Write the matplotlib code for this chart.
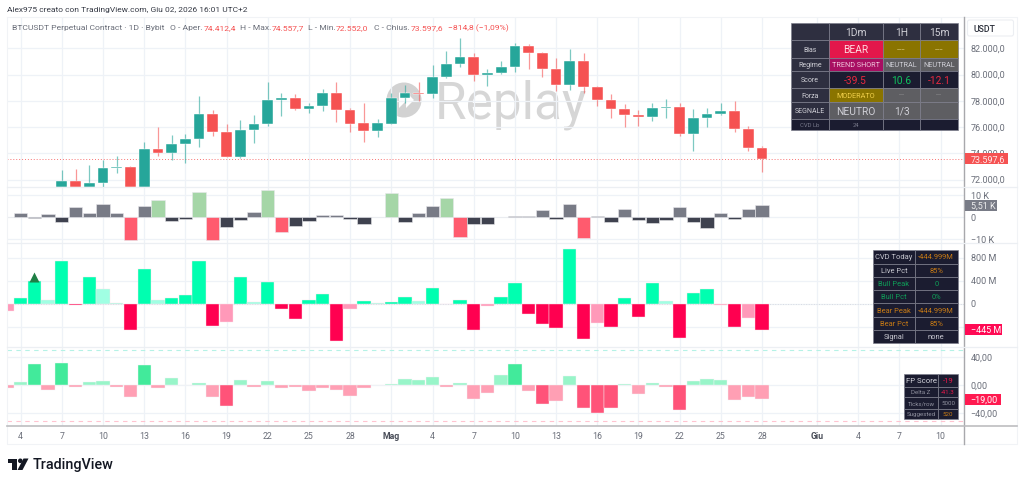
import matplotlib
matplotlib.use("Agg")
import matplotlib.pyplot as plt
from matplotlib.patches import Rectangle, Circle, Polygon, FancyBboxPatch

plt.rcParams['font.family'] = ['Roboto', 'DejaVu Sans']

# ---------- data ----------
candle_days = list(range(3, 55))
opens = [71429,71887,71429,71734,72878,72979,71429,74352,74047,74733,75088,76994,75597,73742,75749,76257,78087,78188,77350,77579,78595,77299,76283,75724,76257,78188,78620,78493,79789,80806,81365,79942,80120,80602,82152,81670,80425,79230,81034,79027,78087,77401,76943,76766,77477,77553,75470,76689,76994,77248,75876,74412.4]
highs = [72751,72802,73106,73462,73767,73056,74834,76003,75393,75470,78341,77325,76207,76511,76918,79408,78595,78493,77833,78900,79434,77426,77833,76613,78595,79205,79408,80729,81771,82788,81619,80450,81034,82432,82305,81746,81263,81949,81644,79103,78544,77731,77325,77807,78138,77807,77350,77452,77858,78011,76105,74557.7]
lows = [71429,71429,71429,71429,72497,71429,71429,73767,73462,73234,74479,75343,73742,73615,74784,76105,76867,77274,77070,77248,76410,75597,74885,75266,76257,77833,78011,78188,79713,80602,79484,79103,80043,80221,80399,79789,78722,78849,78595,77604,76664,75978,76105,76486,76664,75292,74199,76029,76918,75622,74199,72552]
closes = [71887,71429,71734,72878,72979,71429,74352,74047,74733,75063,76994,75622,73742,75749,76257,78087,78188,77350,77579,78595,77299,76257,75724,76283,78188,78620,78493,79789,80806,81365,79942,80120,80602,82152,81670,80425,79230,81034,79027,78087,77401,76943,76766,77477,77553,75470,76689,76994,77248,75876,74377,73597.6]

bar_days = list(range(-1, 55))
volume_k = [0.3,1.8,-0.5,1.4,-2.0,4.7,2.0,5.9,2.0,-10.2,5.2,7.7,-1.8,-0.8,11.5,-10.5,-4.5,-1.2,2.3,12.3,-6.7,-3.9,-1.7,0.8,0.8,-0.9,-3.3,0.3,10.8,-2.4,1.8,5.3,8.8,-8.9,-2.9,-2.9,0.15,0.5,0.5,3.3,-0.8,5.9,-9.5,0.6,-2.0,3.6,-1.1,-2.6,-1.2,4.8,-2.3,-5.0,1.7,-0.8,3.8,5.51]
cvd_m = [-127,104,403,63,742,-23,472,259,23,-449,598,69,104,150,742,-385,-305,472,40,385,-92,-253,75,173,-633,-86,46,17,40,121,52,270,6,63,-443,-40,127,362,-173,-351,-420,950,-610,-322,-403,98,-219,368,52,-593,184,253,-17,-391,-247,-445]
cvd_faded_days = [-1,2,6,7,10,15,17,24,26,29,31,34,42,47,51,53]
fp_score = [-4,5,31,-7,32,-2.5,5,6,-2.5,-16,29,-4,11,1,3,-17,-29,7,-2.5,6,-4,-2.5,-8,-4,-7,-15,-4,0.5,1.5,9,8,12,-3,3,-20,-11,15,30,-8,-27,-23,13,-32,-39.5,-33,2,-12,4,-3,-35,6,9,7,-21,-17,-19]

tick_days = [0,3,6,9,12,15,18,21,24,27,30,33,36,39,42,45,48,51,54,58,61,64,67]
tick_labels = ['4','7','10','13','16','19','22','25','28','Mag','4','7','10','13','16','19','22','25','28','Giu','4','7','10']
bold_ticks = ['Mag','Giu']

price_ticks = [72000,74000,76000,78000,80000,82000]
price_labels = ['72.000,0','74.000,0','76.000,0','78.000,0','80.000,0','82.000,0']
vol_ticks = [-10,0,10]
vol_labels = ['−10 K','0','10 K']
cvd_ticks = [0,400,800]
cvd_labels = ['0','400 M','800 M']
fp_ticks = [-40,0,40]
fp_labels = ['−40,00','0,00','40,00']
last_price = 73597.6

table1 = [
    ['', '1Dm', '1H', '15m'],
    ['Bias', 'BEAR', '---', '---'],
    ['Regime', 'TREND SHORT', 'NEUTRAL', 'NEUTRAL'],
    ['Score', '-39.5', '10.6', '-12.1'],
    ['Forza', 'MODERATO', '---', '---'],
    ['SEGNALE', 'NEUTRO', '1/3', ''],
    ['CVD Lb', '24', '', ''],
]
table2 = [
    ['CVD Today', '-444.999M'],
    ['Live Pct', '85%'],
    ['Bull Peak', '0'],
    ['Bull Pct', '0%'],
    ['Bear Peak', '-444.999M'],
    ['Bear Pct', '85%'],
    ['Signal', 'none'],
]
table3 = [
    ['FP Score', '-19'],
    ['Delta Z', '-41.3'],
    ['Ticks/row', '5000'],
    ['Suggested', '520'],
]

# ---------- styles / layout ----------
W, H = 1024, 485
fig = plt.figure(figsize=(W/100, H/100), dpi=100, facecolor='white')
L, R = 6.7, 964.0
X0, DX = 20.6, 13.73
GRID = '#eef2f7'
TXT = '#6a6e79'
UP, DOWN = '#26a69a', '#f55252'

def make_pane(top, bottom, ylim, yticks):
    ax = fig.add_axes([L/W, 1-bottom/H, (R-L)/W, (bottom-top)/H])
    ax.set_xlim((L-X0)/DX, (R-X0)/DX)
    ax.set_ylim(*ylim)
    ax.set_xticks(tick_days)
    ax.set_yticks(yticks)
    ax.tick_params(length=0, labelbottom=False, labelleft=False)
    ax.grid(True, color=GRID, lw=0.9)
    ax.set_axisbelow(True)
    for s in ax.spines.values():
        s.set_visible(False)
    return ax

def yrange(top, bottom, y_ref, v_ref, px_per_unit):
    return (v_ref - (bottom-y_ref)/px_per_unit, v_ref + (y_ref-top)/px_per_unit)

main = make_pane(17.5, 188.3, yrange(17.5, 188.3, 49.33, 82000, 13.117/1000), price_ticks)
vol = make_pane(188.3, 244.3, yrange(188.3, 244.3, 218.2, 0, 2.2), vol_ticks)
cvd = make_pane(244.3, 347.7, yrange(244.3, 347.7, 305, 0, 0.0578), cvd_ticks + [-400])
fp = make_pane(347.7, 426.7, yrange(347.7, 426.7, 386.3, 0, 0.7), fp_ticks)

# candles
colors = [UP if c >= o else DOWN for o, c in zip(opens, closes)]
main.vlines(candle_days, lows, highs, colors=colors, lw=0.9, alpha=0.6, zorder=3)
main.bar(candle_days, [abs(c-o) for o, c in zip(opens, closes)],
         bottom=[min(o, c) for o, c in zip(opens, closes)],
         width=0.78, color=colors, edgecolor='white', linewidth=0.3, zorder=4)
main.axhline(last_price, color=DOWN, lw=0.7, ls=(0, (1, 2)), alpha=0.8, zorder=2)

# watermark
ov = fig.add_axes([0, 0, 1, 1], facecolor='none', zorder=1)
main.set_zorder(2); main.patch.set_alpha(0)
ov.set_xlim(0, W); ov.set_ylim(H, 0); ov.axis('off')
ov.add_patch(Circle((404, 101), 17.5, color='#d2d2d2', lw=0))
ov.add_patch(Polygon([(399, 93), (407, 101), (399, 109)], color='white', lw=0))
ov.add_patch(Polygon([(406, 93), (414, 101), (406, 109)], color='white', lw=0))
ov.text(435, 104.5, 'Replay', fontsize=37, color='#d6d6d6', va='center', ha='left')
for a in (vol, cvd, fp):
    a.patch.set_alpha(0); a.set_zorder(2)

# volume
def vcol(v):
    if v >= 7: return '#a5d6a7'
    if v <= -6: return '#ff5b6e'
    return '#787b86' if v > 0 else '#3f424f'
vol.bar(bar_days, volume_k, width=0.97, color=[vcol(v) for v in volume_k],
        edgecolor='#e8e8ec', linewidth=0.4, zorder=3)

# CVD
def ccol(d, v):
    if d in cvd_faded_days:
        return '#a0ffe3' if v > 0 else '#ff99b9'
    return '#00ffb0' if v > 0 else '#ff0050'
cvd.bar(bar_days, cvd_m, width=0.97, color=[ccol(d, v) for d, v in zip(bar_days, cvd_m)],
        edgecolor='#fbe3ea', linewidth=0.3, zorder=3)
cvd.axhline(0, color='#d8dbe2', lw=0.7, ls=':', zorder=2)
cvd.scatter([bar_days[2]], [cvd_m[2] + 72], marker='^', s=52, color='#1f7f45', zorder=5, linewidths=0)

# FP
def fcol(v):
    if v >= 25: return '#42ea9b'
    if v <= -25: return '#ff5379'
    return '#98f5c9' if v > 0 else '#ff9fb4'
fp.bar(bar_days, fp_score, width=0.97, color=[fcol(v) for v in fp_score],
       edgecolor='#f4f4f6', linewidth=0.3, zorder=3)
fp.axhline(50, color='#b5f2e6', lw=0.8, ls=(0, (4, 4)), zorder=2)
fp.axhline(-51, color='#ffc4d0', lw=0.8, ls=(0, (4, 4)), zorder=2)

# top overlay for text, tables, frame
top = fig.add_axes([0, 0, 1, 1], facecolor='none', zorder=10)
top.set_xlim(0, W); top.set_ylim(H, 0); top.axis('off')

# frame lines
top.plot([L, 1017, 1017, L, L], [17.5, 17.5, 445, 445, 17.5], color='#f1f3f6', lw=0.8)
top.plot([R, R], [17.5, 445], color='#a8a8ac', lw=1.0)
top.plot([L, 1017], [426.7, 426.7], color='#bdbdc0', lw=1.2)
for yy in (188.3, 244.3, 347.7):
    top.plot([L, 1017], [yy, yy], color='#eceff3', lw=0.9)

# header
top.text(7, 10.3, 'Alex975 creato con TradingView.com, Giu 02, 2026 16:01 UTC+2', fontsize=6.05,
         color='#363a45', va='center')
LEG = '#6a6e79'
y = 28.3
for x, s, c in [(12, 'BTCUSDT Perpetual Contract · 1D · Bybit', LEG), (170, 'O - Aper.', LEG), (203.5, '74.412,4', DOWN),
                (240, 'H - Max.', LEG), (272, '74.557,7', DOWN), (308, 'L - Min.', LEG), (336, '72.552,0', DOWN),
                (374, 'C - Chius.', LEG), (411, '73.597,6', DOWN), (448, '−814,8 (−1,09%)', DOWN)]:
    top.text(x, y, s, fontsize=6.1, color=c, va='center')

# right-axis labels
AX_X = 970.7
def pane_to_px(ax, v):
    return top.transData.inverted().transform(ax.transData.transform((0, v)))[1]
for ax, ticks, labels, fs in [(main, price_ticks, price_labels, 6.5), (vol, vol_ticks, vol_labels, 6.5),
                              (cvd, cvd_ticks, cvd_labels, 6.5), (fp, fp_ticks, fp_labels, 6.5)]:
    for v, s in zip(ticks, labels):
        top.text(AX_X, pane_to_px(ax, v), s, fontsize=fs, color=TXT, va='center', ha='left')

# last-value tags
def tag(y0, y1, x1, s, col, fc='white', fs=6.5):
    top.add_patch(Rectangle((965, y0), x1-965, y1-y0, color=col, lw=0, zorder=5))
    top.text(970.7, (y0+y1)/2, s, fontsize=fs, color=fc, va='center', ha='left', zorder=6)
tag(154.3, 165.3, 1008.3, '73.597,6', DOWN, '#ffe9ea')
tag(200.7, 212, 997.3, '5,51 K', '#787b86', '#eeeeee')
tag(325.3, 336, 1002, '−445 M', '#ff0a54', 'white')
tag(394.7, 405.7, 1001.3, '−19,00', '#ff1a50', 'white')

# USDT box
top.add_patch(FancyBboxPatch((967.5, 21), 46, 16, boxstyle='round,pad=0,rounding_size=2', fc='white', ec='#eceef2', lw=0.8))
top.text(973, 29, 'USDT', fontsize=6.3, color='#2a2e39', va='center', fontweight='medium')

# x tick labels
for d, s in zip(tick_days, tick_labels):
    xp = X0 + DX*d
    bold = s in bold_ticks
    top.text(xp, 436.7, s, fontsize=6.3, ha='center', va='center', color='#4a4e59' if bold else TXT,
             fontweight='bold' if bold else 'normal')

# tables
NAVY = '#1b1c30'; HEAD = '#2e2f40'; GRAY = '#5e5e62'; OLIVE = '#8a7400'; EDGE = '#7d7e8c'
def draw_table(rows, xs, ys, fill, tcolor, fsize):
    for r, row in enumerate(rows):
        for c, s in enumerate(row):
            top.add_patch(Rectangle((xs[c], ys[r]), xs[c+1]-xs[c], ys[r+1]-ys[r],
                                    fc=fill(r, c), ec=EDGE, lw=0.5, zorder=7))
            if s:
                top.text((xs[c]+xs[c+1])/2, (ys[r]+ys[r+1])/2, s, fontsize=fsize(r, c), color=tcolor(r, c),
                         ha='center', va='center', zorder=8)

t1_fill = {(1,1):'#e3174b',(1,2):OLIVE,(1,3):OLIVE,(2,1):'#a80f62',(2,2):GRAY,(2,3):GRAY,(3,1):NAVY,(3,2):NAVY,(3,3):NAVY,
           (4,1):OLIVE,(4,2):GRAY,(4,3):GRAY,(5,1):GRAY,(5,2):GRAY,(5,3):GRAY,(6,0):NAVY,(6,1):NAVY,(6,2):NAVY,(6,3):NAVY}
t1_text = {(1,1):'#ffd9df',(1,2):'#c4b25a',(1,3):'#c4b25a',(2,1):'#f0c5dc',(3,1):'#e8283f',(3,2):'#0fc45f',(3,3):'#e8283f',
           (4,1):'#f0cf4a',(4,2):'#8d8d90',(4,3):'#8d8d90',(6,0):'#77788a',(6,1):'#77788a'}
t1_size = {0:7.4,1:7.4,2:5.2,3:7.4,4:5.2,5:7.4,6:4.2}
def t1_fs(r, c):
    if c == 0:
        return 5.0 if r != 6 else 4.2
    return t1_size[r]
draw_table(table1, [791, 828.7, 882.7, 920.3, 957.7], [24, 41.3, 59.3, 72.3, 89.3, 103, 120.3, 131],
           lambda r, c: t1_fill.get((r, c), HEAD), lambda r, c: t1_text.get((r, c), '#cfcfd6'), t1_fs)

t2_col = {2:'#0f9d58',3:'#0f9d58',4:'#c77a15',5:'#c77a15'}
def t2_text(r, c):
    if r in t2_col: return t2_col[r]
    if c == 1 and r in (0, 1): return '#c77a15'
    return '#c8c8d0'
draw_table(table2, [873.3, 914.7, 957.7], [251.3, 264.6, 277.7, 291.3, 304.4, 317.7, 331, 344.3],
           lambda r, c: NAVY, t2_text, lambda r, c: 5.4)

t3_text = {(0,1):'#e8174a',(1,1):'#e8174a',(3,1):'#c77a15',(0,0):'#d4d4dc'}
draw_table(table3, [903.7, 938.3, 957.7], [374.7, 387.7, 398.3, 409.7, 420.3],
           lambda r, c: NAVY, lambda r, c: t3_text.get((r, c), '#8f909e'),
           lambda r, c: 5.6 if r == 0 else 4.4)

# TradingView logo
INK = '#131722'
top.add_patch(Polygon([(7.5, 459.5), (17, 459.5), (17, 471), (12, 471), (12, 464), (7.5, 464)], color=INK, lw=0))
top.add_patch(Circle((20.3, 461.8), 2.3, color=INK, lw=0))
top.add_patch(Polygon([(23.5, 459.5), (28.5, 459.5), (22.5, 471), (17.5, 471)], color=INK, lw=0))
top.text(32.5, 465.5, 'TradingView', fontsize=10.4, color=INK, va='center', fontweight='medium')

fig.savefig('out.png', dpi=100)
